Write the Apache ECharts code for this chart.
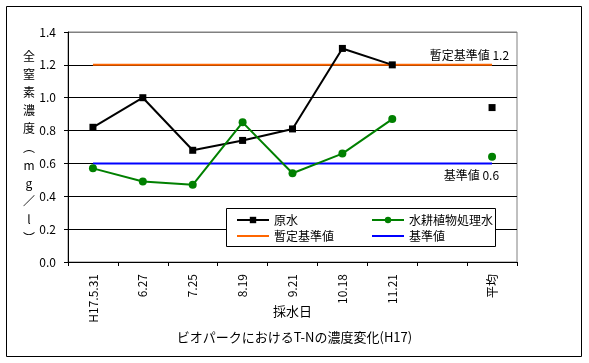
<!DOCTYPE html>
<html><head><meta charset="utf-8">
<script src="https://cdn.jsdelivr.net/npm/echarts@6/dist/echarts.min.js"></script>
<style>html,body{margin:0;padding:0;background:#fff}#c{width:589px;height:363px}</style>
</head><body><div id="c"></div>
<script>
var categories = ['H17.5.31','6.27','7.25','8.19','9.21','10.18','11.21','','平均'];
var rawWater = [0.82,1.00,0.68,0.74,0.81,1.30,1.20,null,0.94];
var treatedWater = [0.57,0.49,0.47,0.85,0.54,0.66,0.87,null,0.64];
var provisionalStd = [1.2,1.2,1.2,1.2,1.2,1.2,1.2,1.2,1.2];
var standard = [0.6,0.6,0.6,0.6,0.6,0.6,0.6,0.6,0.6];
var yTicks = {min:0, max:1.4, interval:0.2};
var yName = ['全','窒','素','濃','度','︵','m','g','／','l','︶'];

var F = '"Noto Sans CJK JP", sans-serif';
var lineIcon = 'path://M0,0H32V2H0Z';
var chart = echarts.init(document.getElementById('c'), null, {renderer:'canvas'});
chart.setOption({
  animation:false,
  backgroundColor:'#fff',
  textStyle:{fontFamily:F, color:'#000'},
  title:{text:'ビオパークにおけるT-Nの濃度変化(H17)', left:'center', top:326,
    textStyle:{fontSize:13, fontWeight:'normal', color:'#000', fontFamily:F}},
  grid:{left:68, top:32, width:449, height:230, show:true, borderColor:'#808080', borderWidth:1, backgroundColor:'transparent'},
  xAxis:{type:'category', data:categories, boundaryGap:true,
    name:'採水日', nameLocation:'middle', nameGap:43, nameMoveOverlap:false,
    nameTextStyle:{fontSize:13, color:'#000', fontFamily:F},
    axisLine:{lineStyle:{color:'#000', width:1}},
    axisTick:{show:true, alignWithLabel:false, length:4, inside:false, lineStyle:{color:'#000'}},
    axisLabel:{rotate:90, margin:12, fontSize:12, color:'#000', fontFamily:F, interval:0},
    splitLine:{show:false}},
  yAxis:{type:'value', min:yTicks.min, max:yTicks.max, interval:yTicks.interval,
    name:yName.join('\n'), nameLocation:'middle', nameRotate:0, nameGap:39, nameMoveOverlap:false,
    nameTextStyle:{fontSize:12, lineHeight:18.2, color:'#000', fontFamily:F, align:'center'},
    axisLine:{show:true, lineStyle:{color:'#000', width:1}},
    axisTick:{show:true, length:4, lineStyle:{color:'#000'}},
    axisLabel:{margin:12, fontSize:12, color:'#000', fontFamily:F, formatter:function(v){return v.toFixed(1);}},
    splitLine:{show:true, lineStyle:{color:['#000','#000','#000','#000','#000','#000','#000','#808080'], width:1}}},
  legend:[
    {orient:'vertical', left:231, top:209, itemWidth:32, itemHeight:8, itemGap:4, z:10,
     data:['原水',{name:'暫定基準値', icon:lineIcon}], textStyle:{fontSize:12, color:'#000', fontFamily:F}},
    {orient:'vertical', left:366, top:209, itemWidth:32, itemHeight:8, itemGap:4, z:10,
     data:['水耕植物処理水',{name:'基準値', icon:lineIcon}], textStyle:{fontSize:12, color:'#000', fontFamily:F}}
  ],
  graphic:[
    {type:'rect', z:5, shape:{x:226.5, y:208.5, width:269, height:38}, style:{fill:'#fff', stroke:'#000', lineWidth:1}},
    {type:'rect', z:0, shape:{x:6.5, y:6.5, width:575, height:350}, style:{fill:'none', stroke:'#000', lineWidth:1}}
  ],
  series:[
    {name:'暫定基準値', type:'line', data:provisionalStd, symbol:'none', z:2,
     lineStyle:{color:'#ff6600', width:2}, itemStyle:{color:'#ff6600'},
     endLabel:{show:true, formatter:'暫定基準値 1.2', align:'right', verticalAlign:'bottom', distance:17,
       padding:[0,0,3,0], fontSize:12, color:'#000', fontFamily:F}},
    {name:'基準値', type:'line', data:standard, symbol:'none', z:2,
     lineStyle:{color:'#0000ff', width:2}, itemStyle:{color:'#0000ff'},
     endLabel:{show:true, formatter:'基準値 0.6', align:'right', verticalAlign:'top', distance:7,
       padding:[6,0,0,0], fontSize:12, color:'#000', fontFamily:F}},
    {name:'原水', type:'line', data:rawWater, symbol:'rect', symbolSize:7, connectNulls:false, z:3,
     lineStyle:{color:'#000', width:2}, itemStyle:{color:'#000'}},
    {name:'水耕植物処理水', type:'line', data:treatedWater, symbol:'circle', symbolSize:8, connectNulls:false, z:3,
     lineStyle:{color:'#008000', width:2}, itemStyle:{color:'#008000'}}
  ]
});
</script></body></html>
